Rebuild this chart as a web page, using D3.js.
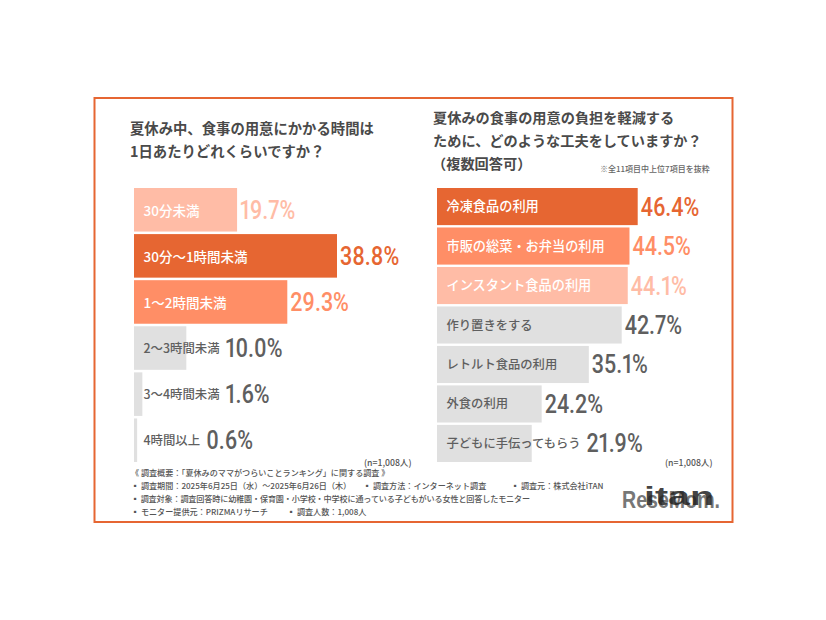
<!DOCTYPE html>
<html><head><meta charset="utf-8">
<script src="https://cdn.jsdelivr.net/npm/d3@7"></script>
<style>html,body{margin:0;background:#fff}svg{display:block}text{font-family:"Noto Sans CJK JP","Noto Sans",sans-serif}</style>
</head><body><svg id="c" width="826" height="620"></svg>
<script>
const leftCategories=["30分未満","30分〜1時間未満","1〜2時間未満","2〜3時間未満","3〜4時間未満","4時間以上"];
const leftValues=[19.7,38.8,29.3,10.0,1.6,0.6];
const leftKinds=["light","dark","mid","grey","grey","grey"];
const rightCategories=["冷凍食品の利用","市販の総菜・お弁当の利用","インスタント食品の利用","作り置きをする","レトルト食品の利用","外食の利用","子どもに手伝ってもらう"];
const rightValues=[46.4,44.5,44.1,42.7,35.1,24.2,21.9];
const rightKinds=["dark","mid","light","grey","grey","grey","grey"];
const leftTitle=["夏休み中、食事の用意にかかる時間は","1日あたりどれくらいですか？"];
const rightTitle=["夏休みの食事の用意の負担を軽減する","ために、どのような工夫をしていますか？","（複数回答可）"];
const footer=[["《 調査概要：「夏休みのママがつらいことランキング」に関する調査 》"],
["▪ 調査期間：2025年6月25日（水）〜2025年6月26日（木）","▪ 調査方法：インターネット調査","▪ 調査元：株式会社iTAN"],
["▪ 調査対象：調査回答時に幼稚園・保育園・小学校・中学校に通っている子どもがいる女性と回答したモニター"],
["▪ モニター提供元：PRIZMAリサーチ","▪ 調査人数：1,008人"]];
const footerX=[[131],[131,363,511],[131],[131,287]];
const footerSpacing=[0,0,-0.14,0];
const fill={dark:"#e66632",mid:"#ff8e66",light:"#ffbca6",grey:"#e0e0e0"};
const valueFill={dark:"#e66632",mid:"#ff8e66",light:"#ffbca6",grey:"#5f5f5f"};
const labelFill={dark:"#fff",mid:"#fff",light:"#fff",grey:"#5f5f5f"};
const svg=d3.select("#c");
svg.append("rect").attr("x",94.5).attr("y",98).attr("width",638).attr("height",424).attr("fill","#fff").attr("stroke","#e66632").attr("stroke-width",2);
function chart(cats,vals,kinds,o){
  const x=d3.scaleLinear().domain([0,o.max]).range([o.x0,o.x1]);
  const y=d3.scaleBand().domain(cats).range([o.y0,o.y1]).paddingInner(o.pad).paddingOuter(0);
  const g=svg.append("g");
  const rows=g.selectAll("g").data(cats).join("g");
  rows.append("rect").attr("x",o.x0).attr("y",d=>y(d)).attr("width",(d,i)=>x(vals[i])-o.x0).attr("height",y.bandwidth()).attr("fill",(d,i)=>fill[kinds[i]]);
  const lab=rows.append("text").attr("x",o.x0+9.5).attr("y",(d,i)=>y(d)+y.bandwidth()/2+(kinds[i]==="grey"?o.dyGrey:o.dyColor))
    .attr("font-size",(d,i)=>kinds[i]==="grey"?o.fsGrey:o.fsColor).attr("font-weight",500)
    .attr("fill",(d,i)=>labelFill[kinds[i]]).text(d=>d);
  rows.append("text").attr("transform",(d,i)=>{
      const end=x(vals[i])+3;
      const lw=lab.nodes()[i].getComputedTextLength()+o.x0+9.5+6;
      return `translate(${Math.max(end,lw)},${y(d)+y.bandwidth()/2+9}) scale(0.86,1)`;})
    .attr("font-size",25).attr("font-weight",500)
    .style("font-family","Roboto,sans-serif").style("font-variant-numeric","proportional-nums")
    .attr("fill",(d,i)=>valueFill[kinds[i]]).text((d,i)=>vals[i].toFixed(1)+"%");
}
chart(leftCategories,leftValues,leftKinds,{x0:134,x1:337,max:38.8,y0:188,y1:462,pad:0.055,dyColor:5.8,dyGrey:4.5,fsColor:13.5,fsGrey:12.4});
chart(rightCategories,rightValues,rightKinds,{x0:437,x1:637.7,max:46.4,y0:188,y1:462,pad:0.06,dyColor:4.5,dyGrey:4.5,fsColor:13.2,fsGrey:12.3});
const txt=(s,x,y,fs,w,c)=>svg.append("text").attr("x",x).attr("y",y).attr("font-size",fs).attr("font-weight",w).attr("fill",c).text(s);
leftTitle.forEach((s,i)=>txt(s,130,134+i*23,14.35,700,"#4a4a4a"));
rightTitle.forEach((s,i)=>txt(s,i==2?432:433,123+i*23,14.2,700,"#4a4a4a"));
txt("※全11項目中上位7項目を抜粋",600,172,8,500,"#666");
txt("(n=1,008人)",364,466,8.7,500,"#555");
txt("(n=1,008人)",665,466,8.7,500,"#555");
footer.forEach((r,i)=>r.forEach((s,j)=>txt(s,footerX[i][j],476+i*13,8.1,500,"#555").attr("letter-spacing",footerSpacing[i])));
const logo=svg.append("g");
logo.append("text").attr("x",622).attr("y",508).attr("font-size",23).attr("font-weight",700).attr("fill","#777").attr("textLength",98).attr("lengthAdjust","spacingAndGlyphs").style("font-family","'Liberation Sans'").text("ReseMom.");
logo.append("text").attr("x",644).attr("y",505).attr("font-size",26).attr("font-weight",700).attr("fill","#222").attr("fill-opacity",0.85).attr("textLength",70).attr("lengthAdjust","spacingAndGlyphs").style("font-family","'Liberation Sans'").text("itan");
</script></body></html>
